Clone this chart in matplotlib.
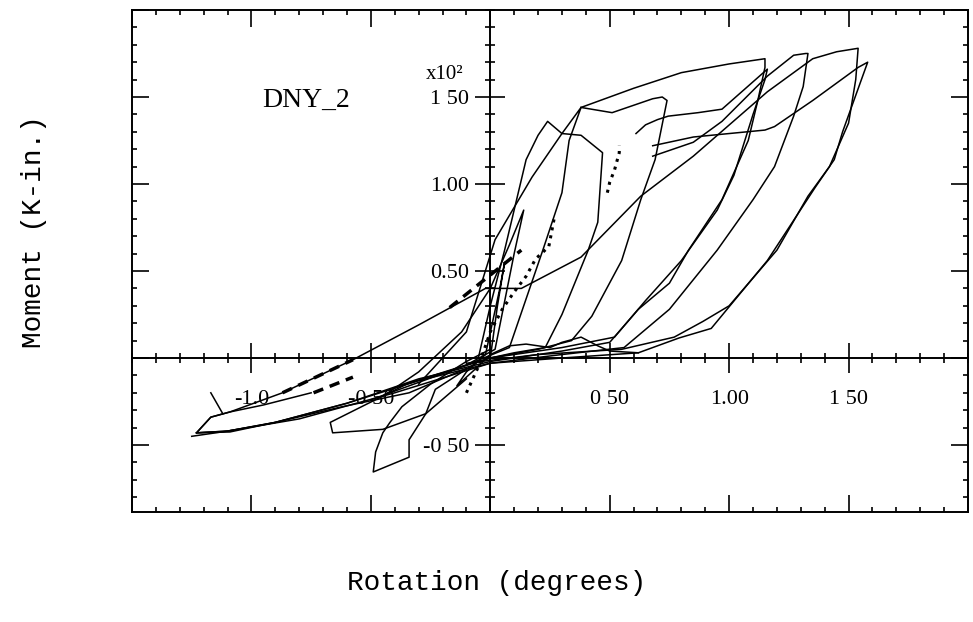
import matplotlib.pyplot as plt
from matplotlib.ticker import FixedLocator, MultipleLocator

# rotation (degrees) / moment (x10^2 K-in.)
rot_c1 = [0.00, 0.03, 0.06, 0.04, -0.02, -0.10, -0.14, -0.06, 0.00]
mom_c1 = [0.00, 0.30, 0.55, 0.40, 0.02, -0.08, -0.16, -0.06, 0.02]

rot_c2 = [-0.45, -0.30, -0.12, 0.00, 0.08, 0.14, 0.10, 0.02, -0.10, -0.30, -0.50]
mom_c2 = [-0.22, -0.08, 0.15, 0.40, 0.65, 0.85, 0.60, 0.05, -0.04, -0.14, -0.24]

rot_a = [-0.05, 0.00, 0.06, 0.15, 0.20, 0.24, 0.30, 0.38, 0.47, 0.45, 0.41, 0.30, 0.23, 0.10, 0.00]
mom_a = [0.00, 0.30, 0.62, 1.14, 1.28, 1.36, 1.29, 1.28, 1.18, 0.78, 0.62, 0.25, 0.06, 0.03, 0.00]

rot_b = [-0.30, -0.10, 0.02, 0.175, 0.30, 0.38, 0.33, 0.30, 0.22, 0.08, -0.10, -0.40]
mom_b = [-0.15, 0.15, 0.68, 1.04, 1.29, 1.44, 1.25, 0.95, 0.62, 0.06, -0.04, -0.17]

rot_top = [0.38, 0.60, 0.80, 1.00, 1.15, 1.15, 1.12, 1.08, 0.97, 0.83, 0.75, 0.62, 0.50,
           0.30, 0.00, -0.30, -0.60, -0.90, -1.10, -1.23]
mom_top = [1.44, 1.55, 1.64, 1.69, 1.72, 1.67, 1.48, 1.25, 0.91, 0.62, 0.43, 0.28, 0.09,
           0.04, -0.02, -0.12, -0.26, -0.37, -0.42, -0.43]

rot_c = [0.38, 0.51, 0.68, 0.72, 0.74, 0.69, 0.63, 0.55, 0.425, 0.34, 0.20, 0.00, -0.05]
mom_c = [1.44, 1.41, 1.49, 1.50, 1.48, 1.14, 0.91, 0.56, 0.24, 0.10, 0.05, 0.00, -0.02]

rot_dip = [-0.05, -0.23, -0.27, -0.34, -0.34, -0.49, -0.48, -0.45, -0.42, -0.37, -0.25, -0.10, 0.00]
mom_dip = [-0.02, -0.18, -0.32, -0.47, -0.57, -0.655, -0.54, -0.43, -0.37, -0.28, -0.15, -0.02, 0.05]

rot_d = [0.61, 0.65, 0.70, 0.745, 0.87, 0.97, 1.16, 1.15, 1.10, 1.02, 0.95, 0.80, 0.65, 0.52,
         0.30, 0.00, -0.35, -0.67, -0.66, -0.45, -0.27, -0.10]
mom_d = [1.29, 1.34, 1.37, 1.39, 1.41, 1.43, 1.66, 1.60, 1.40, 1.05, 0.85, 0.56, 0.33, 0.12,
         0.06, 0.00, -0.15, -0.37, -0.43, -0.41, -0.32, -0.12]

rot_e = [0.68, 0.85, 0.97, 1.16, 1.27, 1.32, 1.33, 1.31, 1.27, 1.19, 1.10, 0.95, 0.75, 0.56,
         0.30, 0.00, -0.40, -0.80, -1.10, -1.23]
mom_e = [1.16, 1.24, 1.36, 1.62, 1.74, 1.75, 1.75, 1.56, 1.39, 1.10, 0.91, 0.62, 0.28, 0.06,
         0.02, -0.03, -0.20, -0.35, -0.42, -0.43]

rot_f = [-1.23, -1.17, -1.09, -0.87, -0.575, -0.30, -0.02, 0.13, 0.38, 0.63, 0.85, 1.16, 1.35,
         1.45, 1.54, 1.53, 1.50, 1.42, 1.33, 1.20, 1.00, 0.89, 0.77, 0.55, 0.20, -0.10]
mom_f = [-0.43, -0.34, -0.31, -0.20, -0.01, 0.19, 0.40, 0.40, 0.58, 0.93, 1.16, 1.53, 1.72,
         1.76, 1.78, 1.60, 1.35, 1.10, 0.93, 0.62, 0.30, 0.21, 0.12, 0.05, 0.02, -0.03]

rot_g = [0.68, 0.85, 1.15, 1.19, 1.35, 1.54, 1.58, 1.475, 1.44, 1.36, 1.16, 0.925, 0.79, 0.62,
         0.30, 0.00, -0.30, -0.60, -0.90, -1.10, -1.25]
mom_g = [1.22, 1.27, 1.31, 1.33, 1.48, 1.67, 1.70, 1.30, 1.14, 0.98, 0.56, 0.17, 0.115, 0.03,
         0.00, -0.03, -0.13, -0.26, -0.37, -0.42, -0.45]

rot_n = [-0.10, -0.34, -0.62, -0.90, -1.09, -1.23, -1.17, -1.09, -0.95, -0.75]
mom_n = [-0.06, -0.20, -0.28, -0.37, -0.425, -0.43, -0.34, -0.31, -0.27, -0.20]

rot_h = [0.00, 0.08, 0.15, 0.25, 0.30, 0.38, 0.45, 0.50, 0.62]
mom_h = [0.02, 0.07, 0.08, 0.06, 0.09, 0.12, 0.07, 0.04, 0.03]

rot_tick = [-1.17, -1.12]
mom_tick = [-0.20, -0.32]

rot_dot1 = [0.49, 0.50, 0.52, 0.53, 0.54, 0.54]
mom_dot1 = [0.95, 1.01, 1.08, 1.13, 1.18, 1.22]
rot_dot2 = [-0.10, -0.05, 0.00, 0.05, 0.10, 0.15, 0.19, 0.245, 0.27]
mom_dot2 = [-0.20, -0.05, 0.15, 0.28, 0.38, 0.47, 0.57, 0.64, 0.82]
rot_dash = [-0.17, 0.13]
mom_dash = [0.29, 0.62]
rot_dash2 = [-0.87, -0.575]
mom_dash2 = [-0.20, -0.01]
rot_dash3 = [-0.74, -0.575]
mom_dash3 = [-0.20, -0.11]

solid = [(rot_c1, mom_c1), (rot_c2, mom_c2), (rot_a, mom_a), (rot_b, mom_b),
         (rot_top, mom_top), (rot_c, mom_c), (rot_dip, mom_dip), (rot_d, mom_d),
         (rot_e, mom_e), (rot_f, mom_f), (rot_g, mom_g), (rot_n, mom_n), (rot_h, mom_h),
         (rot_tick, mom_tick)]
dashed = [(rot_dash, mom_dash), (rot_dash2, mom_dash2), (rot_dash3, mom_dash3)]

fig = plt.figure(figsize=(9.73, 6.22), dpi=100)
rect = [132 / 973, 1 - 512 / 622, 836 / 973, 502 / 622]
xlim = (-1.5, 2.0)
ylim = (-0.885, 2.0)

# outer frame with inward ticks
ax = fig.add_axes(rect)
ax.set_xlim(*xlim)
ax.set_ylim(*ylim)
for s in ax.spines.values():
    s.set_linewidth(1.4)
ax.xaxis.set_major_locator(MultipleLocator(0.5))
ax.xaxis.set_minor_locator(MultipleLocator(0.1))
ax.yaxis.set_major_locator(MultipleLocator(0.5))
ax.yaxis.set_minor_locator(MultipleLocator(0.1))
ax.tick_params(which='both', direction='in', top=True, right=True,
               labelbottom=False, labelleft=False, width=1.2)
ax.tick_params(which='major', length=12)
ax.tick_params(which='minor', length=3.5)

for rot, mom in solid:
    ax.plot(rot, mom, color='k', lw=1.1)
for rot, mom in dashed:
    ax.plot(rot, mom, color='k', ls=(0, (3, 2)), lw=2.5)
ax.plot(rot_dot1, mom_dot1, color='k', ls=':', lw=2.2)
ax.plot(rot_dot2, mom_dot2, color='k', ls=':', lw=2.2)

# axes crossing at the origin
axc = fig.add_axes(rect)
axc.set_xlim(*xlim)
axc.set_ylim(*ylim)
axc.patch.set_visible(False)
axc.spines['top'].set_visible(False)
axc.spines['right'].set_visible(False)
axc.spines['left'].set_position(('data', 0))
axc.spines['bottom'].set_position(('data', 0))
axc.spines['left'].set_linewidth(1.4)
axc.spines['bottom'].set_linewidth(1.4)
axc.xaxis.set_major_locator(FixedLocator([-1.0, -0.5, 0.5, 1.0, 1.5]))
axc.xaxis.set_minor_locator(MultipleLocator(0.1))
axc.yaxis.set_major_locator(FixedLocator([-0.5, 0.5, 1.0, 1.5]))
axc.yaxis.set_minor_locator(MultipleLocator(0.1))
axc.set_xticklabels(['-1.0', '-0 50', '0 50', '1.00', '1 50'])
axc.set_yticklabels(['-0 50', '0.50', '1.00', '1 50'])
axc.tick_params(which='both', direction='inout', width=1.2)
axc.tick_params(which='major', length=22)
axc.tick_params(which='minor', length=7)
axc.tick_params(axis='x', pad=12)
axc.tick_params(axis='y', pad=4)
for lab in axc.get_xticklabels() + axc.get_yticklabels():
    lab.set_fontfamily('Liberation Serif')
    lab.set_fontsize(16)

axc.text(-0.19, 1.63, 'x10²', family='Liberation Serif', fontsize=15,
         ha='center', va='center')
axc.text(-0.77, 1.48, 'DNY_2', family='Liberation Serif', fontsize=20,
         ha='center', va='center')

fig.text(497 / 973, 1 - 583 / 622, 'Rotation (degrees)', family='Liberation Mono',
         fontsize=20, ha='center', va='center')
fig.text(34 / 973, 1 - 232 / 622, 'Moment (K-in.)', family='Liberation Mono',
         fontsize=20, ha='center', va='center', rotation=90)

fig.savefig('out.png', dpi=100)
